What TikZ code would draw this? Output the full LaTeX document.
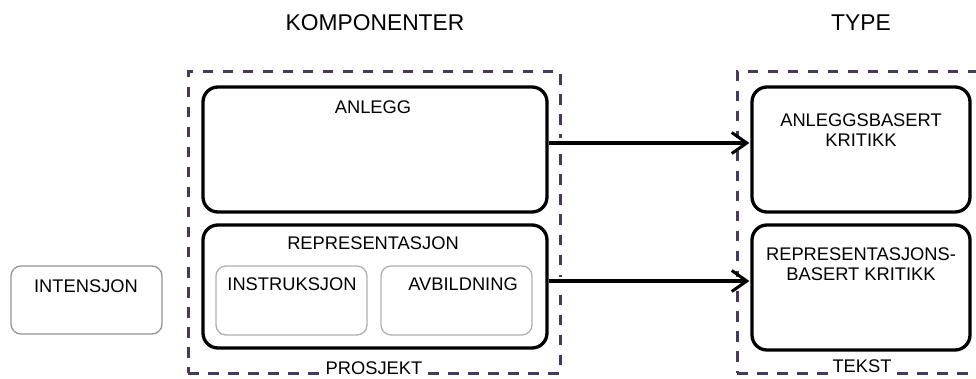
\documentclass[tikz,border=0pt]{standalone}
\usepackage{fontspec}
\setmainfont{Liberation Sans}
\usetikzlibrary{arrows.meta,backgrounds}
\definecolor{frame}{RGB}{72,56,94}
\definecolor{lightbox}{RGB}{175,175,175}
\tikzset{
  txt/.style={font=\fontsize{18.3}{20}\selectfont, inner sep=0pt, align=center},
  title/.style={font=\fontsize{22.8}{26}\selectfont, inner sep=0pt},
  bigbox/.style={draw=black, line width=3.3pt, rounded corners=15pt, inner sep=0pt},
  smallbox/.style={draw=lightbox, line width=1.3pt, rounded corners=10pt, inner sep=0pt},
  framebox/.style={draw=frame, line width=3pt, dash pattern=on 10.5pt off 9.5pt, inner sep=0pt},
  framelabel/.style={txt, fill=white, inner xsep=5pt, inner ysep=2.5pt, anchor=south},
  conn/.style={line width=3.2pt, -{Straight Barb[length=15pt,width=21pt,line width=3pt]}},
  gap/.style={draw=white, line width=9pt},
}
\begin{document}
\begin{tikzpicture}[x=1pt,y=-1pt]
\useasboundingbox (0,0) rectangle (976,379);

% titles
\node[title] (tkomp) at (375,23) {KOMPONENTER};
\node[title] (ttype) at (861,23) {TYPE};

% boxes
\node[bigbox, minimum width=344pt, minimum height=125pt] (anlegg) at (375,149.5) {};
\node[bigbox, minimum width=344pt, minimum height=123pt] (repr) at (375,286.5) {};
\node[smallbox, minimum width=151pt, minimum height=69pt] (instr) at (291.5,300.5) {};
\node[smallbox, minimum width=151pt, minimum height=69pt] (avb) at (456.5,300.5) {};
\node[smallbox, draw=gray!85, minimum width=151pt, minimum height=68pt] (intens) at (86.5,300) {};
\node[bigbox, minimum width=218pt, minimum height=125pt] (ak) at (861,149.5) {};
\node[bigbox, minimum width=218pt, minimum height=125pt] (rk) at (861,287.5) {};

% box texts
\node[txt] (lanlegg) at (373,107) {ANLEGG};
\node[txt] (lrepr) at (373,243) {REPRESENTASJON};
\node[txt] (linstr) at (292,284) {INSTRUKSJON};
\node[txt] (lavb) at (463,284) {AVBILDNING};
\node[txt] (lintens) at (86,286) {INTENSJON};
\node[txt] (lak) at (861,130) {ANLEGGSBASERT\\KRITIKK};
\node[txt] (lrk) at (861,264) {REPRESENTASJONS-\\BASERT KRITIKK};

% frames
\begin{pgfonlayer}{background}
\node[framebox, minimum width=372pt, minimum height=301pt] (prosjekt) at (374,222.5) {};
\node[framebox, minimum width=260pt, minimum height=301pt] (tekst) at (867,222.5) {};
\draw[gap] ([yshift=6.5pt]anlegg.east) -- ([yshift=6.5pt]ak.west);
\draw[gap] ([yshift=5.5pt]repr.east) -- ([yshift=6.5pt]rk.west);
\end{pgfonlayer}

\node[framelabel] (lprosjekt) at ([yshift=-2.5pt]prosjekt.south) {PROSJEKT};
\node[framelabel] (ltekst) at ([yshift=-2.5pt]862,373) {TEKST};

% connectors
\draw[conn] ([yshift=6.5pt]anlegg.east) -- ([yshift=6.5pt,xshift=-1pt]ak.west);
\draw[conn] ([yshift=5.5pt]repr.east) -- ([yshift=6.5pt,xshift=-1pt]rk.west);
\end{tikzpicture}
\end{document}
